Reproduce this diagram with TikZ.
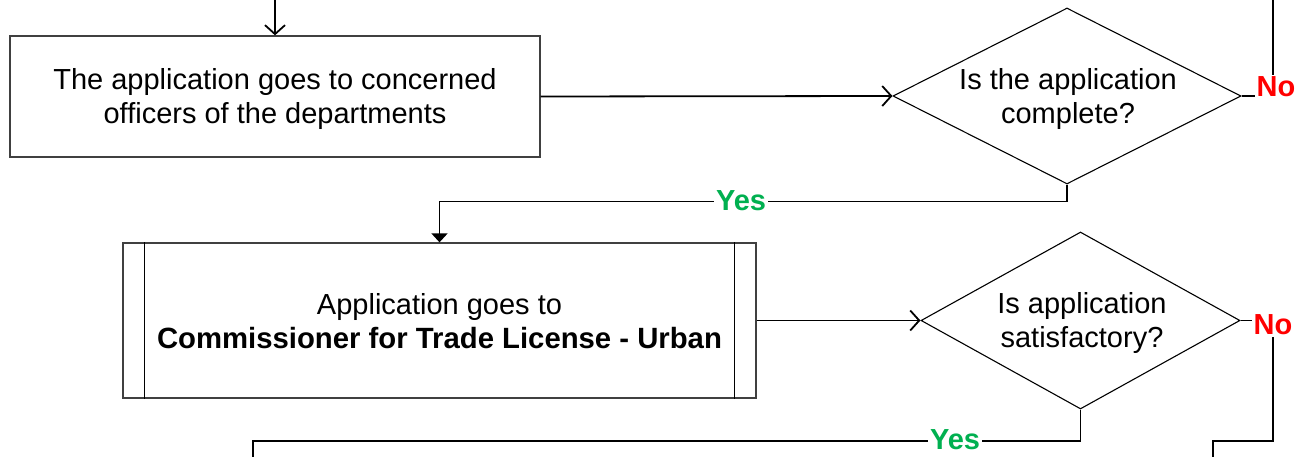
\documentclass[tikz,border=0pt]{standalone}
\usepackage{fontspec}
\setmainfont{Liberation Sans}
\usetikzlibrary{arrows.meta,shapes.geometric,calc}
\definecolor{yesgreen}{RGB}{0,176,80}
\definecolor{nored}{RGB}{255,0,0}
\begin{document}
\begin{tikzpicture}[x=1pt,y=-1pt,
  box/.style={draw=black!75,line width=1.3pt,inner sep=0pt},
  dia/.style={diamond,draw=black,line width=1.1pt,inner sep=0pt},
  txt/.style={align=center,font=\fontsize{29}{34}\selectfont},
  conn/.style={line width=1.8pt},
  openarr/.style={-{Straight Barb[length=9pt,width=20pt]}},
  fillarr/.style={-{Triangle[length=9pt,width=16pt]}},
  yes/.style={font=\fontsize{29}{34}\selectfont\bfseries,text=yesgreen,fill=white,inner sep=2pt},
  no/.style={font=\fontsize{29}{34}\selectfont\bfseries,text=nored,fill=white,inner sep=2pt},
  inner/.style={line width=1pt}
]
\useasboundingbox (0,0) rectangle (1310,457);

% nodes
\node[box,minimum width=530pt,minimum height=121pt] (b1) at (275,96.5) {};
\node[txt] (t1) at ($(b1)+(0,3)$) {The application goes to concerned\\officers of the departments};
\node[dia,minimum width=348pt,minimum height=176pt] (d1) at (1067,96) {};
\node[txt] (t2) at (1068,99) {Is the application\\complete?};
\node[box,minimum width=633pt,minimum height=155pt] (b2) at (439.5,320.5) {};
\node[txt] (t3) at ($(b2)+(0,0.5)$) {Application goes to\\{\fontsize{29.3}{34}\selectfont\bfseries Commissioner for Trade License - Urban}};
\draw[inner] ($(b2.north west)+(22.5,0)$) -- ($(b2.south west)+(22.5,0)$);
\draw[inner] ($(b2.north east)+(-22.5,0)$) -- ($(b2.south east)+(-22.5,0)$);
\node[dia,minimum width=319pt,minimum height=177pt] (d2) at (1080.5,320.5) {};
\node[txt] (t4) at (1082,323.5) {Is application\\satisfactory?};

% free ends
\coordinate (top) at (275,0);
\coordinate (n1) at (1273,0);
\coordinate (y2end) at (253,457);
\coordinate (n2end) at (1213,457);

% connectors
\draw[conn,openarr] (top) -- (b1.north);
\draw[conn,openarr] (b1.east) -- (d1.west);
\draw[conn,fillarr] (d1.south) -- ++(0,17) -| (b2.north);
\draw[conn] (d1.east) -| (n1);
\draw[conn,openarr] (b2.east) -- (d2.west);
\draw[conn] (d2.south) |- ($(y2end)+(0,-16)$) -- (y2end);
\draw[conn] (d2.east) -| ($(n2end)+(60,-16)$) -- ($(n2end)+(0,-16)$) -- (n2end);

% labels
\node[yes] (yes1) at (741,201) {Yes};
\node[no] (no1) at (1276,87) {No};
\node[yes] (yes2) at (955,440) {Yes};
\node[no] (no2) at (1273,325) {No};
\end{tikzpicture}
\end{document}
